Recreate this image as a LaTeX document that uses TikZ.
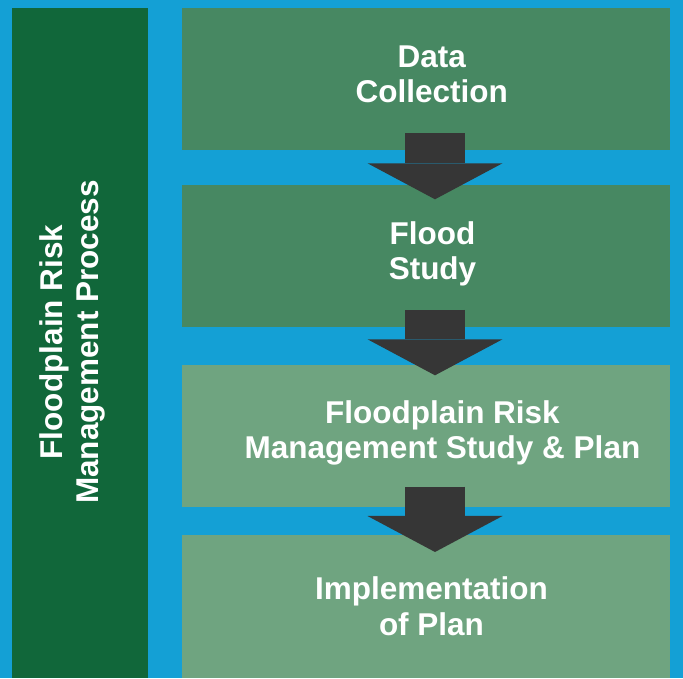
\documentclass[tikz,border=0pt]{standalone}
\usepackage{fontspec}
\setmainfont{Liberation Sans}
\usetikzlibrary{arrows.meta}
\definecolor{bgblue}{RGB}{20,160,213}
\definecolor{bargreen}{RGB}{17,103,58}
\definecolor{midgreen}{RGB}{71,136,98}
\definecolor{lightgreen}{RGB}{111,164,128}
\definecolor{arrowgrey}{RGB}{54,54,54}
\begin{document}
\begin{tikzpicture}[x=1pt,y=1pt,
  panel/.style={draw=none,inner sep=0pt,outer sep=0pt,minimum width=488pt,minimum height=142pt},
  label/.style={text=white,font=\bfseries\fontsize{31.5}{35.3}\selectfont,align=center,inner sep=0pt,anchor=base},
  flow/.style={arrowgrey,line width=60pt,-{Triangle[length=36pt,width=135pt,line width=0pt]}}]
\useasboundingbox (0,0) rectangle (683,678);
\fill[bgblue] (0,0) rectangle (683,678);
\node[draw=none,fill=bargreen,inner sep=0pt,minimum width=136pt,minimum height=670pt] (bar) at (80,335) {};
\node[panel,fill=midgreen] (b1) at (426,599) {};
\node[panel,fill=midgreen] (b2) at (426,422) {};
\node[panel,fill=lightgreen] (b3) at (426,242) {};
\node[panel,fill=lightgreen,minimum height=143pt] (b4) at (426,71.5) {};
\node[label] (t1) at (431.7,575.3) {Data\\Collection};
\node[label] (t2) at (432.5,398) {Flood\\Study};
\node[label] (t3) at (442.5,219.5) {Floodplain Risk\\Management Study \& Plan};
\node[label] (t4) at (431.5,43) {Implementation\\of Plan};
\node[label,rotate=90] (tv) at (98,336) {Floodplain Risk\\Management Process};
\coordinate (a1s) at ([xshift=9pt,yshift=16.7pt]b1.south);
\coordinate (a1e) at ([xshift=9pt,yshift=-14.3pt]b2.north);
\coordinate (a2s) at ([xshift=9pt,yshift=17pt]b2.south);
\coordinate (a2e) at ([xshift=9pt,yshift=-10.3pt]b3.north);
\coordinate (a3s) at ([xshift=9pt,yshift=20.3pt]b3.south);
\coordinate (a3e) at ([xshift=9pt,yshift=-17pt]b4.north);
\draw[flow] (a1s) -- (a1e);
\draw[flow] (a2s) -- (a2e);
\draw[flow] (a3s) -- (a3e);
\end{tikzpicture}
\end{document}
